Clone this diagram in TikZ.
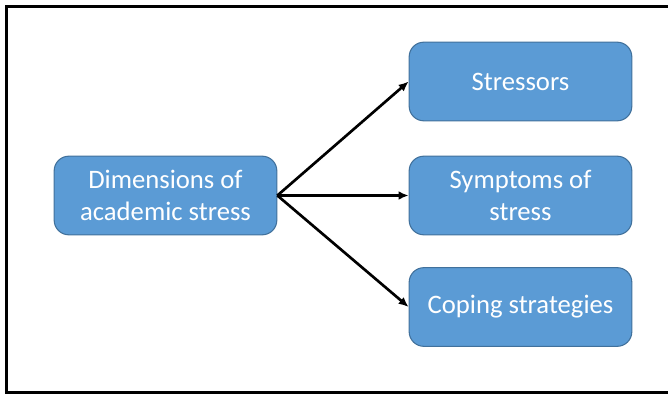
\documentclass[tikz,border=0pt]{standalone}
\usepackage{fontspec}
\setmainfont{Carlito}
\usetikzlibrary{shapes,arrows,arrows.meta,calc}
\definecolor{boxblue}{HTML}{5B9BD5}
\definecolor{boxedge}{HTML}{41719C}
\tikzstyle{block} = [rectangle, draw=boxedge, fill=boxblue, text=white,
    align=center, rounded corners=11pt, minimum width=167pt, minimum height=59pt,
    font=\fontsize{20}{23.5}\selectfont, line width=0.8pt]
\tikzstyle{line} = [draw, -{Latex[length=7.5pt,width=6.5pt]}, line width=2pt]
\begin{document}
\begin{tikzpicture}[x=0.75pt, y=-0.75pt]
\useasboundingbox (0,0) rectangle (668,396);
%% Frame
\draw[line width=2.4pt] (6.5,6.5) rectangle (680,392.5);

%% Place nodes
\node [block] (dimensions) at (165.5,195.5) {Dimensions of\\academic stress};
\node [block] (stressors) at (520.5,81.5) {Stressors};
\node [block] (symptoms) at (520.5,195.5) {Symptoms of\\stress};
\node [block] (coping) at (520.5,307) {Coping strategies};

%% Draw lines between boxes
\path [line] (dimensions.east) -- (stressors.west);
\path [line] (dimensions.east) -- (symptoms.west);
\path [line] (dimensions.east) -- (coping.west);
\end{tikzpicture}
\end{document}
